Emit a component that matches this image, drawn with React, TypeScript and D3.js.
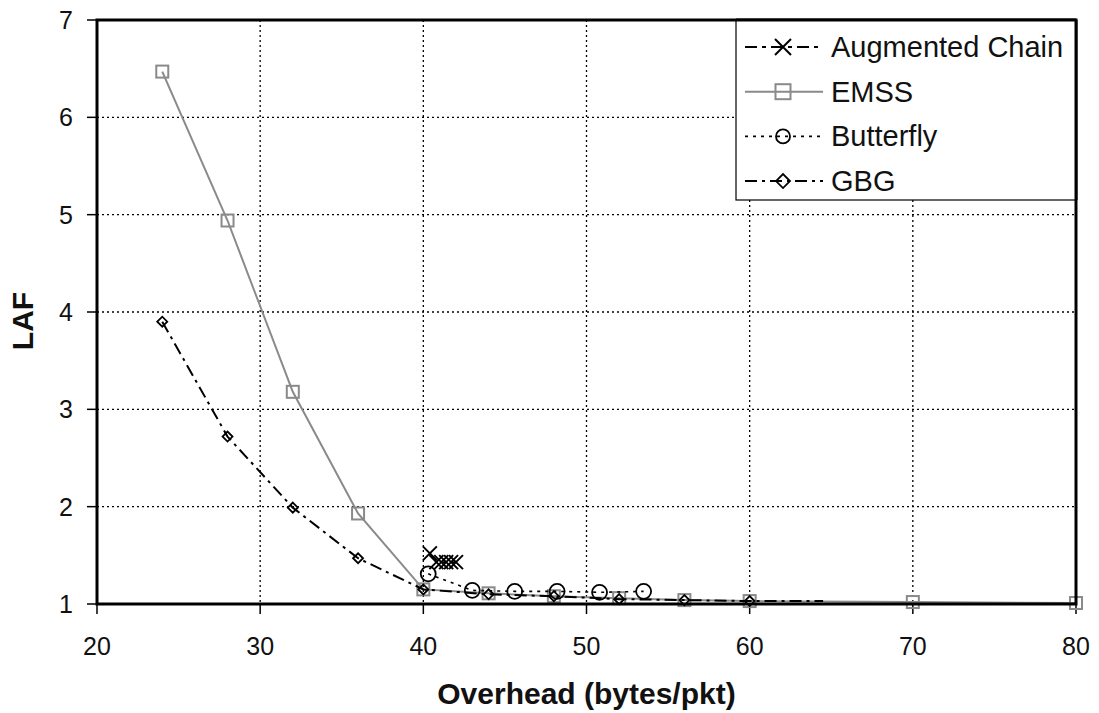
import React from "react";
import * as d3 from "d3";

const xTicks = [20, 30, 40, 50, 60, 70, 80];
const yTicks = [1, 2, 3, 4, 5, 6, 7];

const augX = [40.4, 40.8, 41.1, 41.4, 41.7, 42.0];
const augY = [1.52, 1.43, 1.43, 1.43, 1.43, 1.43];

const emssX = [24, 28, 32, 36, 40, 44, 48, 52, 56, 60, 70, 80];
const emssY = [6.47, 4.94, 3.18, 1.93, 1.15, 1.11, 1.08, 1.06, 1.04, 1.03, 1.02, 1.01];

const butterflyX = [40.3, 43.0, 45.6, 48.2, 50.8, 53.5];
const butterflyY = [1.31, 1.14, 1.13, 1.13, 1.12, 1.13];

const gbgX = [24, 28, 32, 36, 40, 44, 48, 52, 56, 60, 64.5];
const gbgY = [3.9, 2.72, 1.99, 1.47, 1.15, 1.1, 1.08, 1.05, 1.04, 1.03, 1.03];
const gbgMarked = 10; // markers drawn on the first 10 points

const seriesNames = ["Augmented Chain", "EMSS", "Butterfly", "GBG"];

const W = 1099;
const H = 713;
const L = 97, R = 1076, T = 20, B = 604;
const FONT = "'Liberation Sans', Arial, sans-serif";

type Pt = [number, number];

function marker(kind: string, cx: number, cy: number, key: string | number, big = false) {
  if (kind === "x") {
    const s = big ? 8 : 7;
    return (
      <path key={key} d={`M${cx - s},${cy - s}L${cx + s},${cy + s}M${cx - s},${cy + s}L${cx + s},${cy - s}`}
        stroke="#000" strokeWidth={2} fill="none" />
    );
  }
  if (kind === "sq") {
    const s = big ? 7.5 : 6;
    return <rect key={key} x={cx - s} y={cy - s} width={2 * s} height={2 * s} fill="none" stroke="#8a8a8a" strokeWidth={2} />;
  }
  if (kind === "circ") {
    return <circle key={key} cx={cx} cy={cy} r={big ? 7 : 7.5} fill="none" stroke="#000" strokeWidth={1.8} />;
  }
  const s = big ? 7 : 5;
  return <path key={key} d={`M${cx - s},${cy}L${cx},${cy - s}L${cx + s},${cy}L${cx},${cy + s}Z`} fill="none" stroke="#000" strokeWidth={1.8} />;
}

export default function App() {
  const x = d3.scaleLinear().domain([20, 80]).range([L, R]);
  const y = d3.scaleLinear().domain([1, 7]).range([B, T]);
  const line = d3.line<Pt>().x((d) => x(d[0])).y((d) => y(d[1]));
  const zip = (a: number[], b: number[]): Pt[] => a.map((v, i) => [v, b[i]]);

  const series = [
    { name: seriesNames[0], pts: zip(augX, augY), stroke: "#000", width: 1.8, dash: "12,5,4,5", m: "x", nm: augX.length },
    { name: seriesNames[1], pts: zip(emssX, emssY), stroke: "#8a8a8a", width: 2, dash: "", m: "sq", nm: emssX.length },
    { name: seriesNames[2], pts: zip(butterflyX, butterflyY), stroke: "#000", width: 1.6, dash: "3,5", m: "circ", nm: butterflyX.length },
    { name: seriesNames[3], pts: zip(gbgX, gbgY), stroke: "#000", width: 2, dash: "12,5,3,5", m: "dia", nm: gbgMarked },
  ];

  const drawOrder = [1, 3, 2, 0];
  const legX = 736, legY = T, legW = R - 736, legH = 180;

  return (
    <svg width={W} height={H} style={{ position: "absolute", left: 0, top: 0, background: "#fff" }} fontFamily={FONT}>
      <rect x={0} y={0} width={W} height={H} fill="#fff" />
      {/* grid */}
      {xTicks.slice(1, -1).map((t) => (
        <line key={"gx" + t} x1={x(t)} x2={x(t)} y1={T} y2={B} stroke="#000" strokeWidth={1.3} strokeDasharray="2,3" />
      ))}
      {yTicks.slice(1, -1).map((t) => (
        <line key={"gy" + t} x1={L} x2={R} y1={y(t)} y2={y(t)} stroke="#000" strokeWidth={1.3} strokeDasharray="2,3" />
      ))}
      {/* ticks */}
      {xTicks.map((t) => (
        <g key={"tx" + t}>
          <line x1={x(t)} x2={x(t)} y1={B} y2={B + 10} stroke="#000" strokeWidth={1.5} />
          <text x={x(t)} y={655} textAnchor="middle" fontSize={25} fill="#111">{t}</text>
        </g>
      ))}
      {yTicks.map((t) => (
        <g key={"ty" + t}>
          <line x1={L - 10} x2={L} y1={y(t)} y2={y(t)} stroke="#000" strokeWidth={1.5} />
          <text x={73} y={y(t) + 9} textAnchor="end" fontSize={25} fill="#111">{t}</text>
        </g>
      ))}
      {/* series */}
      {drawOrder.map((i) => {
        const s = series[i];
        return (
          <g key={"s" + i}>
            <path d={line(s.pts) || ""} fill="none" stroke={s.stroke} strokeWidth={s.width}
              strokeDasharray={s.dash || undefined} />
            {s.pts.slice(0, s.nm).map((p, j) => marker(s.m, x(p[0]), y(p[1]), j))}
          </g>
        );
      })}
      {/* frame */}
      <rect x={L} y={T} width={R - L} height={B - T} fill="none" stroke="#000" strokeWidth={3} />
      {/* legend */}
      <rect x={legX} y={legY} width={legW} height={legH} fill="#fff" stroke="#000" strokeWidth={1.2} />
      <line x1={legX} x2={R} y1={T} y2={T} stroke="#000" strokeWidth={3} />
      <line x1={R} x2={R} y1={T} y2={T + legH} stroke="#000" strokeWidth={3} />
      {series.map((s, i) => {
        const cy = 47 + i * 44.7;
        return (
          <g key={"l" + i}>
            <line x1={745} x2={823} y1={cy} y2={cy} stroke={s.stroke} strokeWidth={s.width}
              strokeDasharray={s.dash || undefined} />
            {marker(s.m, 783, cy, "m", true)}
            <text x={831} y={cy + 10} fontSize={29} fill="#111">{s.name}</text>
          </g>
        );
      })}
      {/* axis titles */}
      <text x={(L + R) / 2} y={704} textAnchor="middle" fontSize={30} fontWeight="bold" fill="#111">Overhead (bytes/pkt)</text>
      <text transform={`translate(33,321) rotate(-90)`} textAnchor="middle" fontSize={30} fontWeight="bold" fill="#111">LAF</text>
    </svg>
  );
}
